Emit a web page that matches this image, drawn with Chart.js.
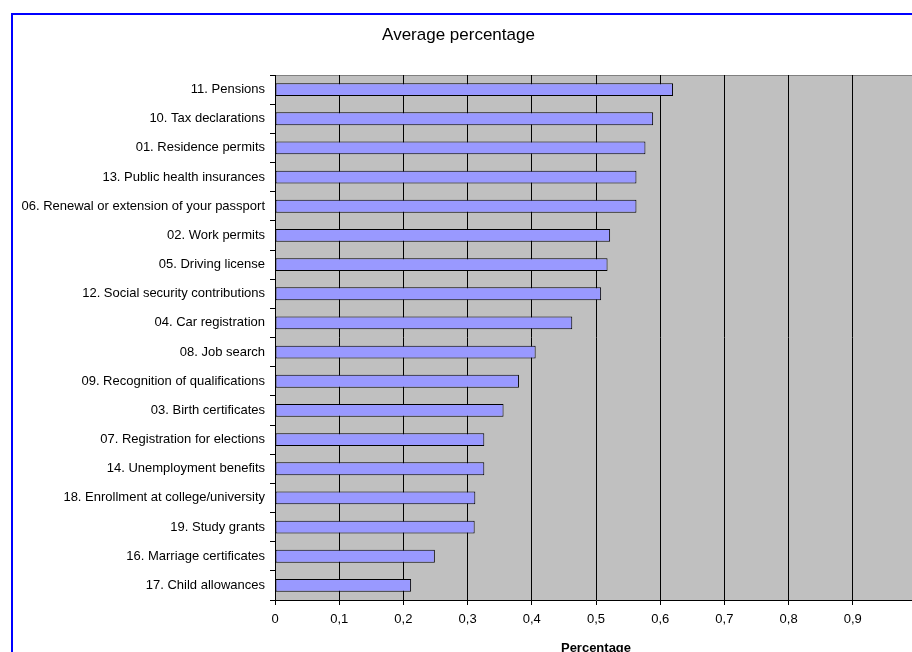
<!DOCTYPE html>
<html>
<head>
<meta charset="utf-8">
<script src="https://cdn.jsdelivr.net/npm/chart.js@4.4.1/dist/chart.umd.min.js"></script>
<style>
  html, body { margin: 0; padding: 0; background: #fff; overflow: hidden; width: 912px; height: 652px; }
  #chart { position: absolute; left: 0; top: 0; }
  #frame { position: absolute; left: 11px; top: 13px; width: 1100px; height: 800px; border: 2px solid #0000ff; }
</style>
</head>
<body>
<canvas id="chart" width="1000" height="680"></canvas>
<div id="frame"></div>
<script>
// categories, top to bottom
const services = [
  "11. Pensions",
  "10. Tax declarations",
  "01. Residence permits",
  "13. Public health insurances",
  "06. Renewal or extension of your passport",
  "02. Work permits",
  "05. Driving license",
  "12. Social security contributions",
  "04. Car registration",
  "08. Job search",
  "09. Recognition of qualifications",
  "03. Birth certificates",
  "07. Registration for elections",
  "14. Unemployment benefits",
  "18. Enrollment at college/university",
  "19. Study grants",
  "16. Marriage certificates",
  "17. Child allowances"
]
// average percentage
const averages = [0.620, 0.589, 0.577, 0.563, 0.563, 0.522, 0.518, 0.508, 0.463, 0.406, 0.380, 0.356, 0.326, 0.326, 0.312, 0.311, 0.249, 0.212]
const xTickLabels = ["0", "0,1", "0,2", "0,3", "0,4", "0,5", "0,6", "0,7", "0,8", "0,9", "1"]

Chart.defaults.font.family = '"Liberation Sans", Arial, sans-serif'
Chart.defaults.font.size = 13
Chart.defaults.color = "#000"

// gray plot area + gray top edge like the old excel chart
const plotBackground = {
  id: "plotBackground",
  beforeDraw(chart) {
    const a = chart.chartArea
    const ctx = chart.ctx
    ctx.save()
    ctx.fillStyle = "#c0c0c0"
    ctx.fillRect(a.left, a.top, a.right - a.left, a.bottom - a.top)
    ctx.strokeStyle = "#808080"
    ctx.lineWidth = 1
    ctx.beginPath()
    ctx.moveTo(a.left, a.top + 0.5)
    ctx.lineTo(a.right, a.top + 0.5)
    ctx.stroke()
    ctx.restore()
  }
}

new Chart(document.getElementById("chart"), {
  type: "bar",
  data: {
    labels: services,
    datasets: [{
      data: averages,
      backgroundColor: "#9999ff",
      borderColor: "#000",
      borderWidth: 1,
      borderSkipped: false,
      barPercentage: 0.44,
      categoryPercentage: 1
    }]
  },
  options: {
    indexAxis: "y",
    responsive: false,
    animation: false,
    layout: { padding: { left: 0, right: 83, top: 0, bottom: 0 } },
    plugins: {
      legend: { display: false },
      tooltip: { enabled: false },
      title: {
        display: true,
        text: "Average percentage",
        font: { size: 17, weight: "normal" },
        color: "#000",
        padding: { top: 25, bottom: 29.6 }
      }
    },
    scales: {
      x: {
        min: 0,
        max: 1,
        ticks: {
          stepSize: 0.1,
          padding: 7,
          maxRotation: 0,
          autoSkip: false,
          callback: (v, i) => xTickLabels[i]
        },
        grid: { color: "#000", lineWidth: 1, drawTicks: true, tickLength: 5 },
        border: { display: true, color: "#000" },
        title: {
          display: true,
          text: "Percentage",
          font: { size: 13, weight: "bold" },
          padding: { top: 0, bottom: 24 }
        },
        afterFit: (scale) => { scale.height = 80 }
      },
      y: {
        ticks: { padding: 5, autoSkip: false },
        grid: { drawOnChartArea: false, drawTicks: true, tickLength: 5, color: "#000" },
        border: { display: true, color: "#000" },
        afterFit: (scale) => { scale.width = 275 }
      }
    }
  },
  plugins: [plotBackground]
})
</script>
</body>
</html>
